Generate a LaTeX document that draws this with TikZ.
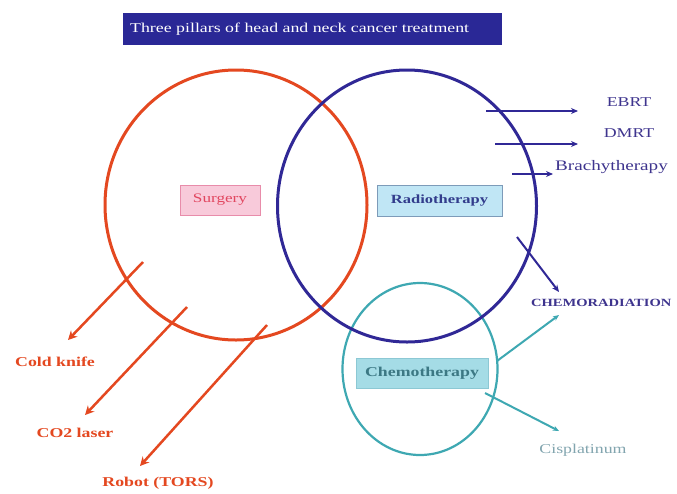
\documentclass[tikz,border=0pt]{standalone}
\usepackage{fontspec}
\setmainfont{Liberation Serif}
\usetikzlibrary{shapes.geometric,arrows.meta}
\definecolor{redc}{RGB}{228,72,32}
\definecolor{bluec}{RGB}{48,40,150}
\definecolor{tealc}{RGB}{62,168,178}
\definecolor{titlefill}{RGB}{42,40,150}
\definecolor{surgfill}{RGB}{248,202,218}
\definecolor{surgdraw}{RGB}{232,140,170}
\definecolor{surgtext}{RGB}{225,70,95}
\definecolor{radiofill}{RGB}{192,230,245}
\definecolor{radiodraw}{RGB}{125,155,185}
\definecolor{radiotext}{RGB}{50,60,140}
\definecolor{chemofill}{RGB}{165,220,230}
\definecolor{chemodraw}{RGB}{140,200,212}
\definecolor{chemotext}{RGB}{60,120,132}
\definecolor{labblue}{RGB}{62,52,142}
\definecolor{labteal}{RGB}{130,165,175}
\newcommand{\sx}[1]{\scalebox{1.32}[1]{#1}}
\tikzset{
  pillar/.style={ellipse,draw,line width=3pt,inner sep=0pt},
  boxlab/.style={rectangle,draw,line width=0.8pt,inner sep=0pt,font=\fontsize{13}{15}\selectfont},
  lab/.style={inner sep=0pt,font=\fontsize{13.5}{15}\selectfont},
  redarrow/.style={draw=redc,line width=2.5pt,-{Stealth[length=9pt,width=9pt]}},
  bluearrow/.style={draw=bluec,line width=2pt,-{Stealth[length=7pt,width=6pt]}},
  tealarrow/.style={draw=tealc,line width=2pt,-{Stealth[length=6pt,width=5pt]}}
}
\begin{document}
\begin{tikzpicture}[x=1pt,y=-1pt]
\useasboundingbox[fill=white] (0,0) rectangle (677,493);
% title
\node[rectangle,fill=titlefill,minimum width=379pt,minimum height=32pt,inner sep=0pt] (title) at (312.5,29) {};
\node[lab,anchor=west,text=white] (titletext) at (130,29) {\sx{Three pillars of head and neck cancer treatment}};
% circles
\node[pillar,draw=redc,minimum width=262pt,minimum height=270pt] (surgc) at (236,205) {};
\node[pillar,draw=tealc,line width=2.2pt,minimum width=155pt,minimum height=172pt] (chemoc) at (420,369) {};
\node[pillar,draw=bluec,minimum width=259pt,minimum height=272pt] (radioc) at (407,206) {};
% boxes
\node[boxlab,fill=surgfill,draw=surgdraw,text=surgtext,minimum width=80pt,minimum height=30pt] (surg) at (220,200) {\sx{Surgery}};
\node[boxlab,fill=radiofill,draw=radiodraw,text=radiotext,minimum width=125pt,minimum height=31pt,font=\fontsize{12.5}{15}\selectfont\bfseries] (radio) at (439.5,201) {\sx{Radiotherapy}};
\node[boxlab,fill=chemofill,draw=chemodraw,text=chemotext,minimum width=132pt,minimum height=30pt,font=\fontsize{13.5}{15}\selectfont\bfseries] (chemo) at (422,373) {\sx{Chemotherapy}};
% radiotherapy outputs
\node[lab,text=labblue] (ebrt) at (629,102) {\sx{EBRT}};
\node[lab,text=labblue] (dmrt) at (629,133) {\sx{DMRT}};
\node[lab,text=labblue,anchor=west,font=\fontsize{14.5}{15}\selectfont] (brachy) at (555,167) {\sx{Brachytherapy}};
\node[lab,text=labblue,anchor=west,font=\fontsize{11}{15}\selectfont\bfseries] (chemorad) at (531,303) {\sx{CHEMORADIATION}};
\node[lab,text=labteal] (cispl) at (583,450) {\sx{Cisplatinum}};
% surgery outputs
\node[lab,text=redc,font=\fontsize{13.5}{15}\selectfont\bfseries] (cold) at (55,362) {\sx{Cold knife}};
\node[lab,text=redc,font=\fontsize{13.5}{15}\selectfont\bfseries] (co2) at (75,433) {\sx{CO2 laser}};
\node[lab,text=redc,font=\fontsize{13.5}{15}\selectfont\bfseries] (robot) at (158,483) {\sx{Robot (TORS)}};
% coordinates
\coordinate (e1) at (486,111); \coordinate (e2) at (578,111);
\coordinate (d1) at (495,144); \coordinate (d2) at (578,144);
\coordinate (b1) at (512,174); \coordinate (b2) at (553,174);
\coordinate (c1) at (517,237); \coordinate (c2) at (559,292);
\coordinate (t1) at (497,361); \coordinate (t2) at (559,315);
\coordinate (p1) at (485,393); \coordinate (p2) at (559,431);
\coordinate (k1) at (143,262); \coordinate (k2) at (68,340);
\coordinate (l1) at (187,307); \coordinate (l2) at (85,415);
\coordinate (r1) at (267,325); \coordinate (r2) at (140,466);
% arrows
\draw[bluearrow] (e1) -- (e2);
\draw[bluearrow] (d1) -- (d2);
\draw[bluearrow] (b1) -- (b2);
\draw[bluearrow] (c1) -- (c2);
\draw[tealarrow] (t1) -- (t2);
\draw[tealarrow] (p1) -- (p2);
\draw[redarrow] (k1) -- (k2);
\draw[redarrow] (l1) -- (l2);
\draw[redarrow] (r1) -- (r2);
\end{tikzpicture}
\end{document}
